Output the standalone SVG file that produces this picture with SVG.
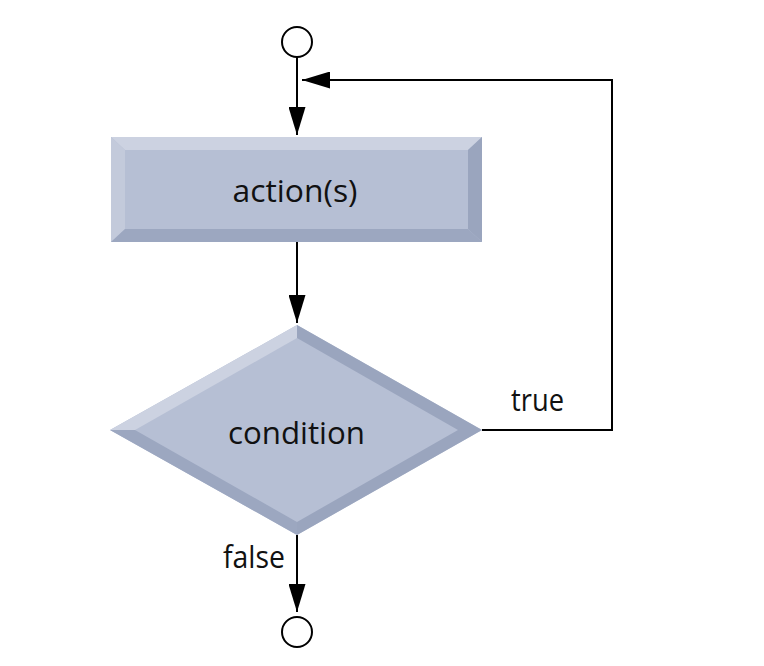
<svg xmlns="http://www.w3.org/2000/svg" width="764" height="666" viewBox="0 0 764 666">
  <style>
    .line { fill: none; stroke: #000; stroke-width: 2; }
    .term { fill: #fff; stroke: #000; stroke-width: 2; }
    .face { fill: #b6bfd4; }
    .light { fill: #ccd2e1; }
    .lightside { fill: #c3cadb; }
    .dark { fill: #9aa5be; }
    .darkb { fill: #9ca7c0; }
    .label { font-family: "Open Sans", "Liberation Sans", sans-serif; font-size: 31px; fill: #111; }
  </style>
  <defs>
    <marker id="arrow" viewBox="0 0 28 17" refX="28" refY="8.5" markerWidth="28" markerHeight="17" markerUnits="userSpaceOnUse" orient="auto">
      <path d="M0,0 L28,8.5 L0,17 z" fill="#000"/>
    </marker>
  </defs>
  <rect width="764" height="666" fill="#fff"/>

  <g id="connectors">
    <path class="line" d="M297,57 L297,135" marker-end="url(#arrow)"/>
    <path class="line" d="M297,242 L297,323" marker-end="url(#arrow)"/>
    <path class="line" d="M482,430 L612,430 L612,80 L302,80" marker-end="url(#arrow)"/>
    <path class="line" d="M297,535 L297,612" marker-end="url(#arrow)"/>
  </g>

  <g id="start">
    <circle class="term" cx="297" cy="42" r="15"/>
  </g>

  <g id="action">
    <rect class="face" x="111" y="137" width="371" height="105"/>
    <polygon class="light" points="111,137 482,137 468,150 125,150"/>
    <polygon class="lightside" points="111,137 125,150 125,229 111,242"/>
    <polygon class="dark" points="482,137 482,242 468,229 468,150"/>
    <polygon class="darkb" points="111,242 125,229 468,229 482,242"/>
    <text class="label" x="295" y="202" text-anchor="middle" textLength="125" lengthAdjust="spacingAndGlyphs">action(s)</text>
  </g>

  <g id="condition">
    <polygon class="face" points="297,325 482,430 297,535 110,430"/>
    <polygon class="light" points="110,430 297,325 297,338 135,430"/>
    <polygon class="dark" points="297,325 482,430 458,430 297,338"/>
    <polygon class="dark" points="482,430 297,535 297,522 458,430"/>
    <polygon class="darkb" points="297,535 110,430 135,430 297,522"/>
    <text class="label" x="296.5" y="444" text-anchor="middle" textLength="137" lengthAdjust="spacingAndGlyphs">condition</text>
  </g>

  <g id="labels">
    <text class="label" x="511" y="411" textLength="53" lengthAdjust="spacingAndGlyphs">true</text>
    <text class="label" x="223" y="568" textLength="62" lengthAdjust="spacingAndGlyphs">false</text>
  </g>

  <g id="end">
    <circle class="term" cx="297" cy="632" r="15"/>
  </g>
</svg>
